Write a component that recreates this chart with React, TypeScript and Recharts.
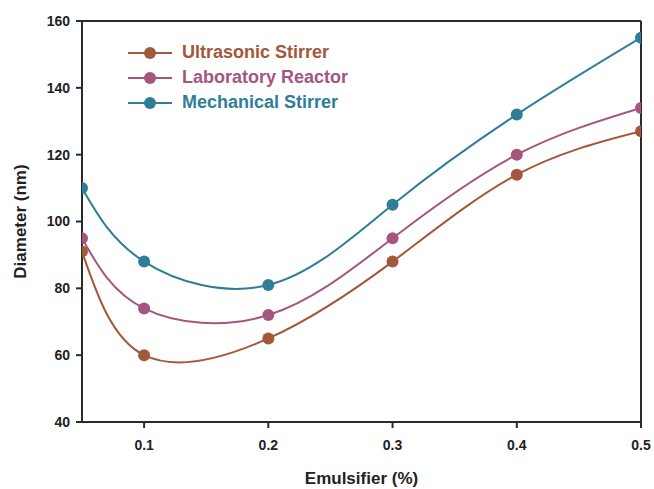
import { LineChart, Line, XAxis, YAxis, Legend, ReferenceLine } from 'recharts'

const emulsifier = [0.05, 0.1, 0.2, 0.3, 0.4, 0.5]
const ultrasonic = [91, 60, 65, 88, 114, 127]
const laboratory = [95, 74, 72, 95, 120, 134]
const mechanical = [110, 88, 81, 105, 132, 155]
const xTicks = [0.1, 0.2, 0.3, 0.4, 0.5]
const yTicks = [40, 60, 80, 100, 120, 140, 160]

const series = [
  { key: 'ultrasonic', name: 'Ultrasonic Stirrer', color: '#a2583a' },
  { key: 'laboratory', name: 'Laboratory Reactor', color: '#a4567f' },
  { key: 'mechanical', name: 'Mechanical Stirrer', color: '#2f7e99' },
]

const data = emulsifier.map((x, i) => ({
  x,
  ultrasonic: ultrasonic[i],
  laboratory: laboratory[i],
  mechanical: mechanical[i],
}))

const font = '"Liberation Sans", Arial, sans-serif'
const axisColor = '#2b2b2b'

const renderLegend = () => (
  <div style={{ fontFamily: font, fontWeight: 700, fontSize: 18 }}>
    {series.map((s) => (
      <div key={s.key} style={{ display: 'flex', alignItems: 'center', height: 25, color: s.color }}>
        <svg width={46} height={14} style={{ marginRight: 9 }}>
          <line x1={1} y1={7} x2={45} y2={7} stroke={s.color} strokeWidth={2} />
          <circle cx={23} cy={7} r={6} fill={s.color} />
        </svg>
        {s.name}
      </div>
    ))}
  </div>
)

const YTitle = (props: any) => {
  const vb = props.viewBox
  const cx = vb.x + 20
  const cy = vb.y + vb.height / 2
  return (
    <text
      x={cx}
      y={cy}
      transform={`rotate(-90, ${cx}, ${cy})`}
      textAnchor="middle"
      dominantBaseline="central"
      fontFamily={font}
      fontWeight={700}
      fontSize={17}
      fill="#222"
    >
      Diameter (nm)
    </text>
  )
}

export default function App() {
  return (
    <div style={{ position: 'absolute', left: 0, top: 0 }}>
      <LineChart width={654} height={489} data={data} margin={{ top: 21, right: 13, left: 0, bottom: 0 }}>
        <XAxis
          dataKey="x"
          type="number"
          domain={[0.05, 0.5]}
          ticks={xTicks}
          allowDataOverflow
          height={67}
          tickSize={6}
          tickMargin={12}
          stroke={axisColor}
          strokeWidth={2}
          tick={{ fontSize: 14, fontWeight: 700, fill: '#222', fontFamily: font }}
          label={{
            value: 'Emulsifier (%)',
            position: 'insideBottom',
            offset: 5,
            fontSize: 17,
            fontWeight: 700,
            fill: '#222',
            fontFamily: font,
          }}
        />
        <YAxis
          type="number"
          domain={[40, 160]}
          ticks={yTicks}
          width={82}
          tickSize={6}
          tickMargin={6}
          stroke={axisColor}
          strokeWidth={2}
          tick={{ fontSize: 14, fontWeight: 700, fill: '#222', fontFamily: font }}
          label={<YTitle />}
        />
        <ReferenceLine y={160} stroke={axisColor} strokeWidth={2} />
        <ReferenceLine x={0.5} stroke={axisColor} strokeWidth={2} />
        <Legend
          layout="vertical"
          align="center"
          verticalAlign="middle"
          content={renderLegend}
          wrapperStyle={{ top: 40, left: 127, width: 320 }}
        />
        {series.map((s) => (
          <Line
            key={s.key}
            dataKey={s.key}
            name={s.name}
            type="natural"
            stroke={s.color}
            strokeWidth={2}
            dot={{ r: 6, fill: s.color, stroke: s.color, strokeWidth: 0 }}
            activeDot={false}
            isAnimationActive={false}
          />
        ))}
      </LineChart>
    </div>
  )
}
